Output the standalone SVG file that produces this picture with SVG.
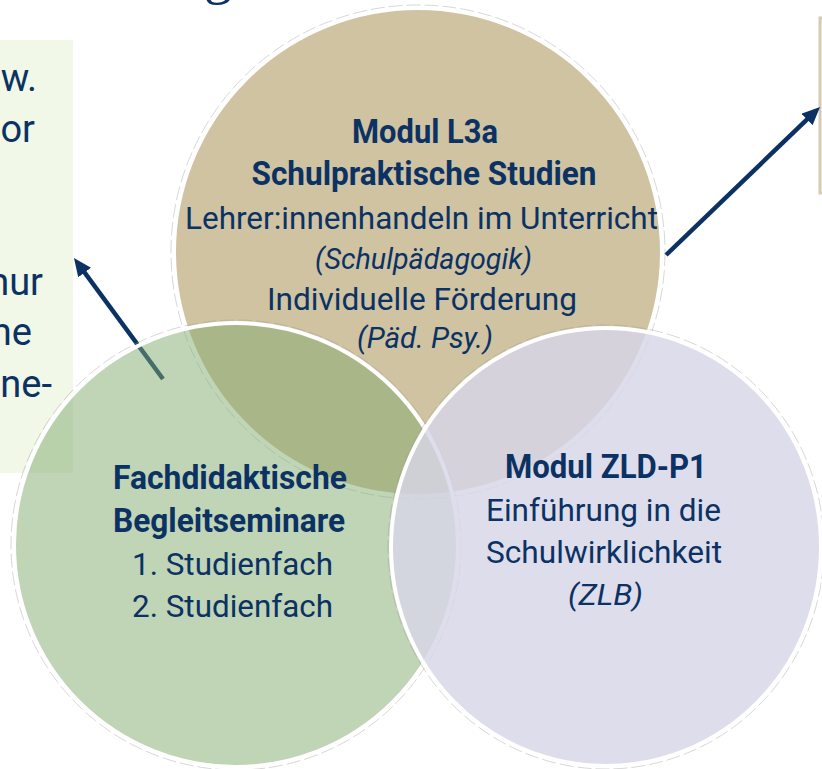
<svg xmlns="http://www.w3.org/2000/svg" width="822" height="769" viewBox="0 0 822 769">
<defs>
<style>
.t{fill:#0B3263;font-family:Roboto,"Liberation Sans",sans-serif;}
.b{font-weight:700;font-size:34px;}
.r{font-weight:400;font-size:31px;}
.i{font-weight:400;font-style:italic;font-size:30px;}
.side{font-weight:400;font-size:38px;}
.ring{fill:none;stroke:#9a9a9a;stroke-width:0.8;stroke-dasharray:14 4;opacity:0.5;}
.edge{stroke:#FFFFFF;stroke-width:4;}
.conn{stroke:#0B3263;stroke-width:4.5;fill:none;}
</style>
<marker id="ah" markerUnits="userSpaceOnUse" markerWidth="18" markerHeight="16" refX="8" refY="8" orient="auto">
<path d="M0,0 L18,8 L0,16 z" fill="#0B3263"/>
</marker>
</defs>
<rect width="822" height="769" fill="#FFFFFF"/>
<g id="title">
<text x="204" y="-7" font-family="'Liberation Serif',serif" font-size="56" fill="#0B3263">g</text>
</g>
<g id="left-box">
<rect x="0" y="40" width="73" height="433" fill="#F1F8E7"/>
<text class="t side" x="37" y="91" text-anchor="end">w.</text>
<text class="t side" x="35" y="142" text-anchor="end">or</text>
<text class="t side" x="43" y="295" text-anchor="end">nur</text>
<text class="t side" x="32" y="345" text-anchor="end">ne</text>
<text class="t side" x="52" y="397" text-anchor="end">ne-</text>
</g>
<g id="right-box">
<rect x="820" y="18" width="40" height="175" fill="#FFFFFF" stroke="#D6CBAE" stroke-width="3"/>
</g>
<g id="connectors">
<line class="conn" x1="163" y1="379" x2="79.9" y2="266.1" marker-end="url(#ah)"/>
<line class="conn" x1="666" y1="255" x2="812.8" y2="113.9" marker-end="url(#ah)"/>
</g>
<g id="modul-l3a">
<circle class="ring" cx="418" cy="252" r="247"/>
<circle class="edge" cx="418" cy="252" r="244" fill="#CFC3A2"/>
<text class="t b" x="425" y="143" text-anchor="middle" textLength="146" lengthAdjust="spacingAndGlyphs">Modul L3a</text>
<text class="t b" x="424" y="185" text-anchor="middle" textLength="345" lengthAdjust="spacingAndGlyphs">Schulpraktische Studien</text>
<text class="t r" x="421.5" y="229" text-anchor="middle" textLength="473" lengthAdjust="spacingAndGlyphs">Lehrer:innenhandeln im Unterricht</text>
<text class="t i" x="423.5" y="269" text-anchor="middle" textLength="217" lengthAdjust="spacingAndGlyphs">(Schulpädagogik)</text>
<text class="t r" x="422" y="310" text-anchor="middle" textLength="310" lengthAdjust="spacingAndGlyphs">Individuelle Förderung</text>
<text class="t i" x="425" y="348" text-anchor="middle" textLength="136" lengthAdjust="spacingAndGlyphs">(Päd. Psy.)</text>
</g>
<g id="fachdidaktik">
<circle class="ring" cx="236" cy="545" r="225"/>
<circle cx="236" cy="545" r="222" fill="rgb(129,169,109)" fill-opacity="0.5" stroke="#FFFFFF" stroke-width="4"/>
<text class="t b" x="230" y="489" text-anchor="middle" textLength="234" lengthAdjust="spacingAndGlyphs">Fachdidaktische</text>
<text class="t b" x="229" y="532" text-anchor="middle" textLength="232" lengthAdjust="spacingAndGlyphs">Begleitseminare</text>
<text class="t r" x="232.5" y="575" text-anchor="middle" textLength="201" lengthAdjust="spacingAndGlyphs">1. Studienfach</text>
<text class="t r" x="232.5" y="617" text-anchor="middle" textLength="201" lengthAdjust="spacingAndGlyphs">2. Studienfach</text>
</g>
<g id="modul-zld-p1">
<ellipse class="ring" cx="606" cy="547" rx="218" ry="222"/>
<ellipse cx="606" cy="547" rx="215" ry="219" fill="rgb(215,214,232)" fill-opacity="0.82" stroke="#FFFFFF" stroke-width="4"/>
<text class="t b" x="606" y="478" text-anchor="middle" textLength="202" lengthAdjust="spacingAndGlyphs">Modul ZLD-P1</text>
<text class="t r" x="603.5" y="521" text-anchor="middle" textLength="235" lengthAdjust="spacingAndGlyphs">Einführung in die</text>
<text class="t r" x="604" y="563" text-anchor="middle" textLength="236" lengthAdjust="spacingAndGlyphs">Schulwirklichkeit</text>
<text class="t i" x="605.5" y="605" text-anchor="middle" textLength="75" lengthAdjust="spacingAndGlyphs">(ZLB)</text>
</g>
</svg>
